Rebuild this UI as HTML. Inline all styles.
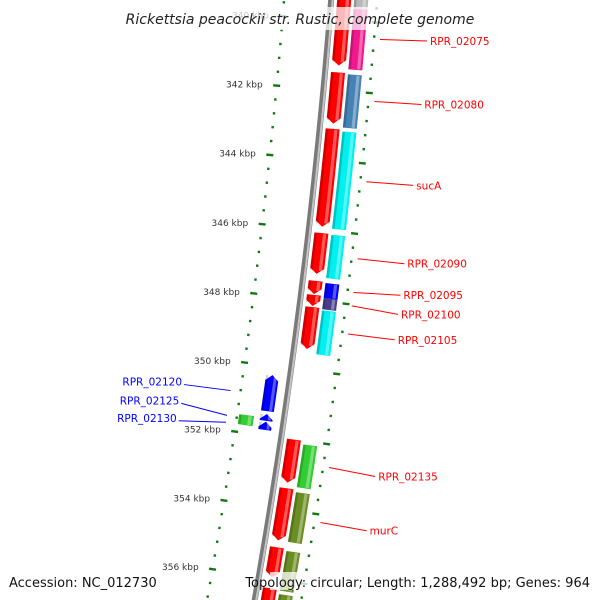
<!DOCTYPE html>
<html><head><meta charset="utf-8"><style>
html,body{margin:0;padding:0;background:#fff;width:600px;height:600px;overflow:hidden;}
svg{display:block;font-family:"DejaVu Sans","Liberation Sans",sans-serif;}
</style></head><body>
<svg id="map" width="600" height="600" viewBox="0 0 600 600" xmlns="http://www.w3.org/2000/svg">
<defs>
<clipPath id="clip"><rect x="0" y="0" width="600" height="600"/></clipPath>
</defs>
<g id="layer" clip-path="url(#clip)"></g>
<rect x="128" y="7" width="344" height="23" fill="#fff" opacity="0.72"/>
<text x="300" y="24" text-anchor="middle" font-size="14" font-style="italic" fill="#222">Rickettsia peacockii str. Rustic, complete genome</text>
<rect x="4" y="572" width="146" height="18" fill="#fff" opacity="0.75"/>
<text x="9" y="587" font-size="13" fill="#111">Accession: NC_012730</text>
<rect x="270" y="572" width="326" height="18" fill="#fff" opacity="0.75"/>
<text x="590" y="587" text-anchor="end" font-size="13" fill="#111">Topology: circular; Length: 1,288,492 bp; Genes: 964</text>
</svg>
<script>
// ---- data ----
const innerStarts = [338.0, 341.49, 343.10, 346.08, 347.45, 347.85, 348.20, 352.00, 353.40, 355.10, 356.28];
const innerEnds   = [341.29, 342.95, 345.90, 347.25, 347.83, 348.17, 349.40, 353.24, 354.90, 355.96, 358.0];
const outerStarts = [338.0, 339.66, 341.52, 343.15, 346.10, 347.48, 347.91, 348.26, 352.10, 353.47, 355.16, 356.40];
const outerEnds   = [339.66, 341.38, 343.04, 345.93, 347.34, 347.91, 348.23, 349.52, 353.33, 354.90, 356.30, 358.0];
const outerColors = ["#b8b8b8", "#f0188c", "#4682b4", "#00f0f0", "#00f0f0", "#0000ff", "#483d8b", "#00f0f0", "#32cd32", "#6b8e23", "#6b8e23", "#6b8e23"];
const revStarts = [350.26, 351.38, 351.60];
const revEnds   = [351.30, 351.58, 351.84];
const otherStarts = [351.49];
const otherEnds   = [351.78];
const tickMajor = [340, 342, 344, 346, 348, 350, 352, 354, 356, 358];
const fwdLabels = ["RPR_02075", "RPR_02080", "sucA", "RPR_02090", "RPR_02095", "RPR_02100", "RPR_02105", "RPR_02135", "murC"];
const fwdLabelFrom = [340.47, 342.23, 344.51, 346.70, 347.66, 348.04, 348.84, 352.65, 354.22];
const fwdLabelTo   = [340.42, 342.21, 344.49, 346.70, 347.59, 348.13, 348.85, 352.72, 354.26];
const revLabels = ["RPR_02120", "RPR_02125", "RPR_02130"];
const revLabelFrom = [350.85, 351.57, 351.77];
const revLabelTo   = [350.85, 351.40, 351.91];

// ---- geometry ----
const CX = -5957, CY = -406, RB = 6300;
function th(k){ return 0.0787 + (k - 342) * 0.005564; }
function pt(r, k){ const t = th(k); const y = CY + r * Math.sin(t); return [CX + r * Math.cos(t) - 0.0145 * (y - 86), y]; }
function f(p){ return p[0].toFixed(2) + "," + p[1].toFixed(2); }
const NS = "http://www.w3.org/2000/svg";
const layer = document.getElementById("layer");
function mk(tag, attrs){ const e = document.createElementNS(NS, tag); for (const a in attrs) e.setAttribute(a, attrs[a]); layer.appendChild(e); return e; }
function arcPts(r, k1, k2, n){ const a = []; for (let i = 0; i <= n; i++) a.push(pt(r, k1 + (k2 - k1) * i / n)); return a; }
function block(r1, r2, k1, k2, tip){
  const tl = 0.16, rm = (r1 + r2) / 2; let a1 = k1, a2 = k2;
  if (tip === 1) a2 = Math.max(k1, k2 - tl);
  if (tip === -1) a1 = Math.min(k2, k1 + tl);
  let pts = arcPts(r1, a1, a2, 12);
  if (tip === 1) pts.push(pt(r1, a2), pt(rm, k2));
  pts = pts.concat(arcPts(r2, a2, a1, 12));
  if (tip === -1) pts.push(pt(rm, k1));
  return "M" + pts.map(f).join("L") + "Z";
}
function shadeBlock(name, r1, r2, k1, k2, col, tip){
  const p = mk("path", {d: block(r1, r2, k1, k2, tip), fill: col});
  
  
  const w = r2 - r1;
  const hl = mk("path", {d: block(r1 + w * 0.62, r1 + w * 0.85, k1 + 0.02, k2 - (tip === 1 ? 0.1 : 0.02), 0), fill: "#fff", opacity: "0.35"});
  
  
  const dk = mk("path", {d: block(r1, r1 + w * 0.18, k1 + 0.02, k2 - (tip === 1 ? 0.1 : 0.02), 0), fill: "#000", opacity: "0.18"});
  
  
}
function arcPath(r, k1, k2){ return "M" + arcPts(r, k1, k2, 60).map(f).join("L"); }

const bb = mk("path", {d: arcPath(RB, 337, 358), fill: "none", stroke: "#7a7a7a", "stroke-width": 6});


const bb2 = mk("path", {d: arcPath(RB + 1.5, 337, 358), fill: "none", stroke: "#c4c4c4", "stroke-width": 2});



for (let k = 338; k <= 358.001; k += 0.4) {
  const kk = Math.round(k * 10) / 10;
  const major = tickMajor.some(m => Math.abs(m - kk) < 0.01);
  const h = major ? 3.5 : 1.2;
  [6253, 6346].forEach((r, j) => {
    const t = mk("path", {d: "M" + f(pt(r - h, kk)) + "L" + f(pt(r + h, kk)), stroke: "#107a10", "stroke-width": 2.4});
    
    
  });
}
tickMajor.forEach(m => {
  const p = pt(6239, m);
  const t = mk("text", {x: p[0].toFixed(1), y: (p[1] + 3).toFixed(1), "text-anchor": "end", "font-size": "9", fill: "#333"});
  t.textContent = m + " kbp";
  
  
});

innerStarts.forEach((s, i) => shadeBlock('cds-forward-' + i, 6306, 6320, s, innerEnds[i], "#ff0000", 1));
outerStarts.forEach((s, i) => shadeBlock('cog-feature-' + i, 6323, 6337, s, outerEnds[i], outerColors[i], 0));
revStarts.forEach((s, i) => shadeBlock('cds-reverse-' + i, 6276, 6289, s, revEnds[i], "#0000ff", -1));
otherStarts.forEach((s, i) => shadeBlock('cog-reverse-' + i, 6255, 6270, s, otherEnds[i], "#32cd32", 0));

fwdLabels.forEach((txt, i) => {
  const a = pt(6352, fwdLabelFrom[i]), b = pt(6399, fwdLabelTo[i]);
  const l = mk("line", {x1: a[0], y1: a[1], x2: b[0], y2: b[1], stroke: "#ff0000", "stroke-width": 1});
  
  
  const t = mk("text", {x: (b[0] + 3).toFixed(1), y: (b[1] + 4).toFixed(1), "font-size": "10.5", fill: "#ff0000"});
  t.textContent = txt;
  
  
});
revLabels.forEach((txt, i) => {
  const a = pt(6243, revLabelFrom[i]), b = pt(6196, revLabelTo[i]);
  const l = mk("line", {x1: a[0], y1: a[1], x2: b[0], y2: b[1], stroke: "#0000ff", "stroke-width": 1});
  
  
  const t = mk("text", {x: (b[0] - 2).toFixed(1), y: (b[1] + 1).toFixed(1), "text-anchor": "end", "font-size": "10.5", fill: "#0000ff"});
  t.textContent = txt;
  
  
});
</script>
</body></html>
